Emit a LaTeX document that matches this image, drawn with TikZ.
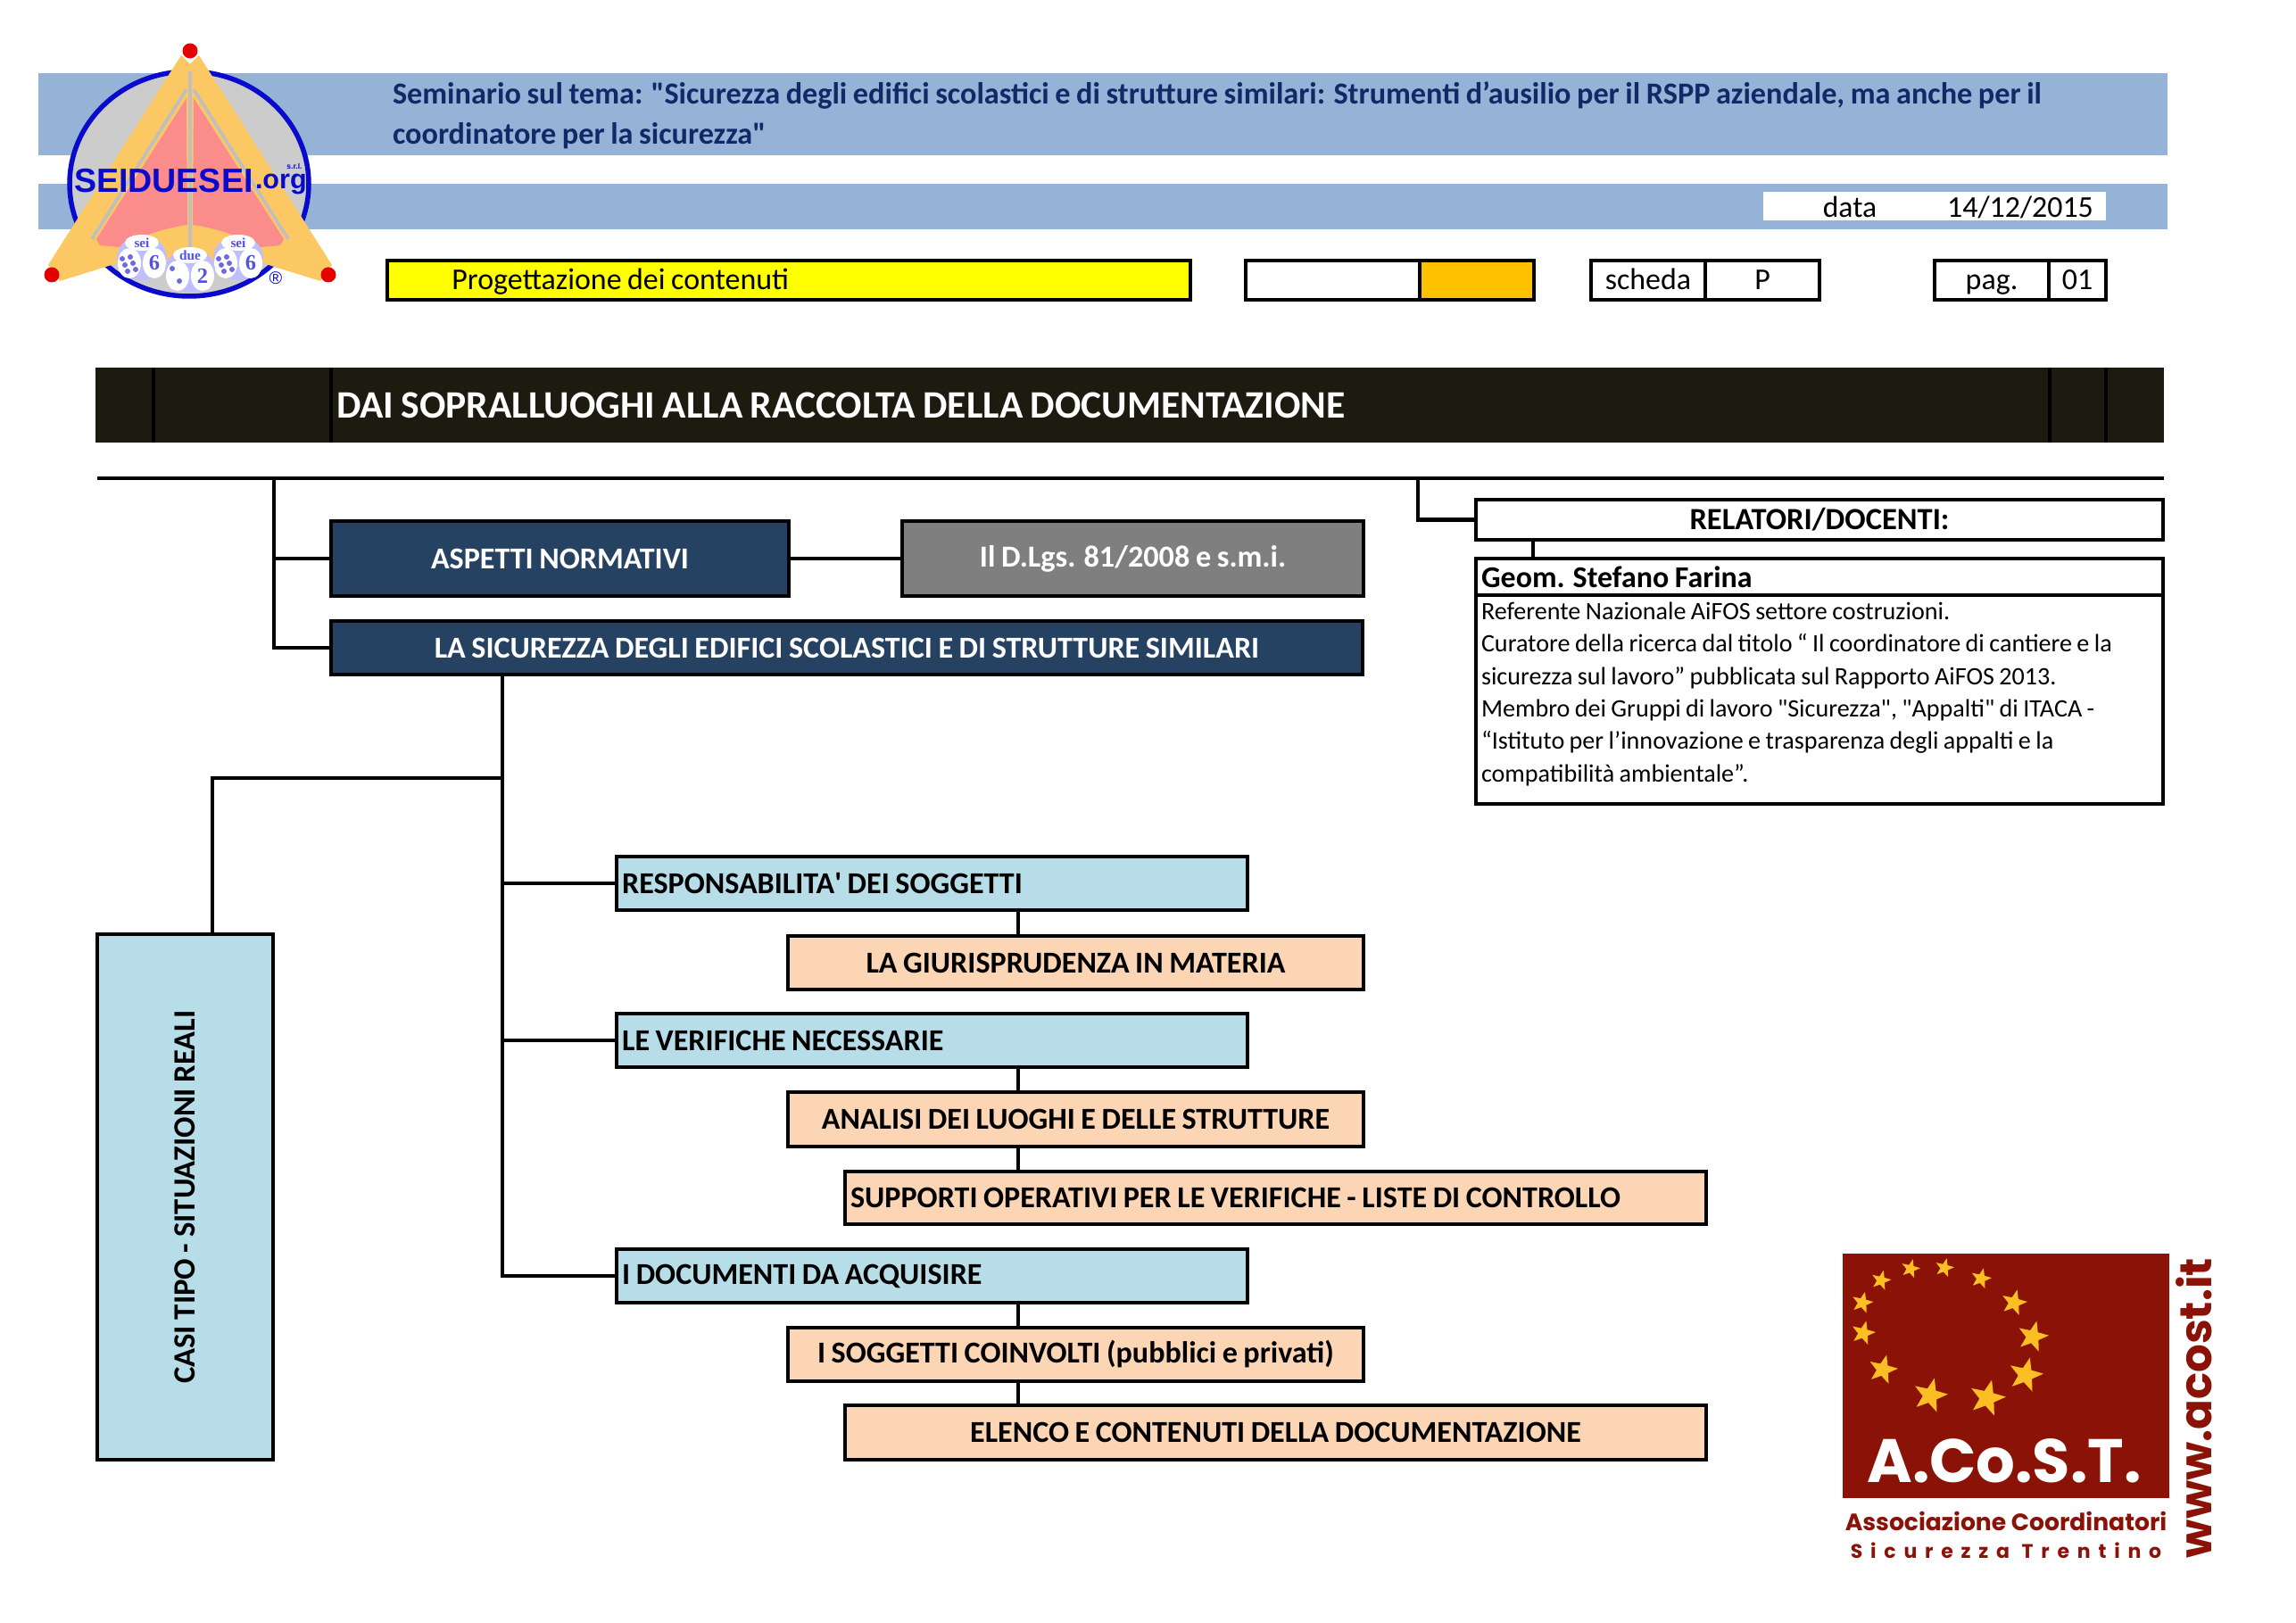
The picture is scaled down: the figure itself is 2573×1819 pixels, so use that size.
\documentclass[tikz,border=0pt]{standalone}
\usepackage{fontspec}
\setmainfont[WordSpace=0.85]{Carlito}
\newfontfamily\logofont{Liberation Sans}
\newfontfamily\acostfont{Poppins}
\newfontfamily\acostspaced[LetterSpace=40]{Poppins}
\newfontfamily\dadofont{Liberation Serif}
\usetikzlibrary{shapes.geometric,positioning}
\definecolor{banda}{HTML}{95B3D7}
\definecolor{testata}{HTML}{1D1B10}
\definecolor{navy}{HTML}{264263}
\definecolor{grigio}{HTML}{7F7F7F}
\definecolor{azzurro}{HTML}{B7DDE8}
\definecolor{pesca}{HTML}{FCD5B5}
\definecolor{inchiostro}{HTML}{0F2A66}
\definecolor{giallo}{HTML}{FFFF00}
\definecolor{arancio}{HTML}{FFC000}
\definecolor{rosso}{HTML}{8B1207}
\definecolor{oro}{HTML}{FBBF24}
\definecolor{alogo}{HTML}{FCC864}
\definecolor{rosa}{HTML}{FB8C8C}
\definecolor{blulogo}{HTML}{0A0ACC}
\newcommand\fs[1]{\fontsize{#1}{#1}\selectfont}
\tikzset{
x=0.3272pt,
y=-0.3272pt,
every node/.style={outer sep=0pt},
sized/.style 2 args={anchor=north west, minimum width=#1*0.3272pt, minimum height=#2*0.3272pt,
  text width=#1*0.3272pt-4pt, inner xsep=2pt, inner ysep=0pt},
cell/.style={draw, align=flush center, font=\fs{11.1}, text height=8.5pt, text depth=1.5pt},
navybox/.style={draw, fill=navy, text=white, align=flush center, font=\bfseries\fs{11.15}},
bluebox/.style={draw, fill=azzurro, align=flush left, font=\bfseries\fs{11.15}},
peachbox/.style={draw, fill=pesca, align=flush center, font=\bfseries\fs{11.15}},
stella/.style={star, star points=5, star point ratio=2.4, fill=oro, inner sep=0pt, rotate=-14},
dado/.style={text=blulogo!70, font=\dadofont\bfseries\fs{5}, inner sep=0pt},
}

\begin{document}
\begin{tikzpicture}[line width=1.4pt]
    \useasboundingbox (0,0) rectangle (2573,1819);

    \node[sized={2386}{92}, fill=banda] (banda1) at (43,82) {};
    \node[sized={2386}{51}, fill=banda] (banda2) at (43,206) {};
    \node[sized={384}{32}, fill=white] (bdata) at (1976,215) {};
    \node (ldata) at (2073,232) {\fs{11}data};
    \node (vdata) at (2264,232) {\fs{11.1}14/12/2015};
    \node[anchor=north west, align=left, inner sep=0pt, text=inchiostro, font=\bfseries\fontsize{11.2}{14.5}\selectfont] (semin) at (440,92)
        {Seminario sul tema: \textquotedbl Sicurezza degli edifici scolastici e di strutture similari: Strumenti d’ausilio per il RSPP aziendale, ma anche per il\\coordinatore per la sicurezza\textquotedbl};

    \node[sized={900}{44}, cell, fill=giallo, align=flush left] (prog) at (434,292) {\hspace*{21.7pt}Progettazione dei contenuti};
    \node[sized={195}{44}, cell] (vuoto) at (1396,292) {};
    \node[sized={128}{44}, cell, fill=arancio] (aran) at (1591,292) {};
    \node[sized={128}{44}, cell] (sch) at (1783,292) {scheda};
    \node[sized={128}{44}, cell] (schp) at (1911,292) {P};
    \node[sized={128}{44}, cell] (pag) at (2168,292) {pag.};
    \node[sized={64}{44}, cell] (pagn) at (2296,292) {01};

    \node[sized={2318}{84}, fill=testata] (titolo) at (107,412) {};
    \node[anchor=west, inner sep=0pt, text=white, font=\bfseries\fs{14.25}] (titxt) at (377,454) {DAI SOPRALLUOGHI ALLA RACCOLTA DELLA DOCUMENTAZIONE};
    \foreach \xs in {172,371,2297,2360}
        \draw (\xs,0 |- titolo.north) -- (\xs,0 |- titolo.south);

    \coordinate (tl) at (109,536);
    \coordinate (tr) at (2425,536);
    \coordinate (vn) at (307,536);
    \coordinate (vr) at (1589,536);
    \draw (tl) -- (tr);

    \node[sized={513}{84}, navybox] (asp) at (371,584) {ASPETTI NORMATIVI};
    \node[sized={517}{84}, draw, fill=grigio, text=white, align=flush center, font=\bfseries\fs{11.2}] (dlgs) at (1011,584) {Il D.Lgs. 81/2008 e s.m.i.};
    \node[sized={1156}{60}, navybox] (sicur) at (371,696) {LA SICUREZZA DEGLI EDIFICI SCOLASTICI E DI STRUTTURE SIMILARI};
    \draw (asp) -- (dlgs);
    \draw (vn) |- (asp.west);
    \draw (vn) |- (sicur.west);

    \node[sized={770}{45}, draw, align=flush center, font=\bfseries\fs{11.3}] (relat) at (1654,560) {RELATORI/DOCENTI:};
    \node[sized={770}{41}, draw, align=flush left, font=\bfseries\fs{11.1}] (geom) at (1654,626) {Geom. Stefano Farina};
    \node[sized={770}{234}, draw] (descr) at (1654,667) {};
    \node[anchor=north west, inner sep=0pt, align=left, font=\fs{9.2}] (dtxt) at (1660,675)
        {Referente Nazionale AiFOS settore costruzioni.\\[2.7pt]
         Curatore della ricerca dal titolo “ Il coordinatore di cantiere e la\\[2.7pt]
         sicurezza sul lavoro” pubblicata sul Rapporto AiFOS 2013.\\[2.7pt]
         Membro dei Gruppi di lavoro \textquotedbl Sicurezza\textquotedbl, \textquotedbl Appalti\textquotedbl{} di ITACA -\\[2.7pt]
         “Istituto per l’innovazione e trasparenza degli appalti e la\\[2.7pt]
         compatibilità ambientale”.};
    \coordinate (vg) at (1718,605);
    \draw (vr) |- (relat.west);
    \draw (relat.south -| vg) -- (geom.north -| vg);

    \node[sized={707}{60}, bluebox] (resp) at (691,960) {RESPONSABILITA\textquotesingle{} DEI SOGGETTI};
    \node[sized={645}{60}, peachbox] (giur) at (883,1049) {LA GIURISPRUDENZA IN MATERIA};
    \node[sized={707}{60}, bluebox] (verif) at (691,1136) {LE VERIFICHE NECESSARIE};
    \node[sized={645}{61}, peachbox] (anal) at (883,1224) {ANALISI DEI LUOGHI E DELLE STRUTTURE};
    \node[sized={965}{59}, bluebox, fill=pesca] (supp) at (947,1313) {SUPPORTI OPERATIVI PER LE VERIFICHE - LISTE DI CONTROLLO};
    \node[sized={707}{60}, bluebox] (docum) at (691,1400) {I DOCUMENTI DA ACQUISIRE};
    \node[sized={645}{60}, peachbox] (sogg) at (883,1488) {I SOGGETTI COINVOLTI (pubblici e privati)};
    \node[sized={965}{61}, peachbox] (elen) at (947,1575) {ELENCO E CONTENUTI DELLA DOCUMENTAZIONE};
    \node[draw, fill=azzurro, rotate=90, minimum width=589*0.3272pt, minimum height=197*0.3272pt, font=\bfseries\fs{11.35}] (casi) at (207.5,1341.5) {CASI TIPO - SITUAZIONI REALI};

    \coordinate (tr1) at (563,872);
    \coordinate (c1) at (238,872);
    \coordinate (vb) at (1141,0);
    \draw (sicur.south -| tr1) -- (docum.west -| tr1) -- (docum.west);
    \draw (resp.west -| tr1) -- (resp.west);
    \draw (verif.west -| tr1) -- (verif.west);
    \draw (tr1) -- (c1) -- (c1 |- casi.east);
    \draw (resp.south -| vb) -- (giur.north -| vb);
    \draw (verif.south -| vb) -- (anal.north -| vb);
    \draw (anal.south -| vb) -- (supp.north -| vb);
    \draw (docum.south -| vb) -- (sogg.north -| vb);
    \draw (sogg.south -| vb) -- (elen.north -| vb);

    % logo a sinistra
    \draw[draw=blulogo, line width=1.8pt, fill=gray!40] (212,206) ellipse (134 and 126);
    \fill[alogo] (203,62) -- (213,72) -- (223,62) -- (372,297) -- (359,315) -- (285,292) -- (141,292) -- (67,315) -- (54,297) -- cycle;
    \fill[rosa] (209,110) -- (108,268) -- (112,275) -- (134,277) .. controls (150,270) and (170,258) .. (210,252) -- cycle;
    \fill[rosa] (217,110) -- (318,268) -- (314,275) -- (292,277) .. controls (276,270) and (256,258) .. (216,252) -- cycle;
    \draw[gray!50, line width=1.2pt] (209,100) -- (103,268);
    \draw[gray!50, line width=1.2pt] (217,100) -- (323,268);
    \draw[gray!50, line width=1.5pt] (213,80) -- (213,277);
    \foreach \dx/\dy/\dt/\dn/\di in {159/272/sei/6/a,267/272/sei/6/b,213/286/due/2/c} {
        \fill[blue!25!white] (\dx,\dy+17) ellipse (28 and 25);
        \fill[white] (\dx,\dy) ellipse (19 and 9);
        \fill[white] (\dx-14,\dy+23) ellipse (13 and 17);
        \fill[white] (\dx+14,\dy+23) ellipse (13 and 17);
        \node[dado] (dt\di) at (\dx,\dy) {\dt};
        \node[dado, font=\dadofont\bfseries\fs{8}] (dn\di) at (\dx+14,\dy+23) {\dn};
    }
    \foreach \px/\py in {137/290,146/288,140/297,149/295,143/304,152/302,245/290,254/288,248/297,257/295,251/304,260/302,193/301,201/315}
        \fill[blulogo!60] (\px,\py) circle (3);
    \foreach \rx/\ry in {213/57,58/308,368/308}
        \fill[red!90!black] (\rx,\ry) circle (8.5);
    \node[anchor=west, inner sep=0pt, text=blulogo, font=\logofont\bfseries\fs{12.3}] (sds) at (83,203) {SEIDUESEI};
    \node[anchor=west, inner sep=0pt, text=blulogo, font=\logofont\bfseries\fs{10}] (org) at (286,207) {.org};
    \node[inner sep=0pt, text=blulogo, font=\logofont\bfseries\fs{2.8}] (srl) at (330,186) {s.r.l.};
    \node[inner sep=0pt, text=blulogo, font=\logofont\fs{6.5}] (reg) at (309,312) {®};

    % logo a destra
    \node[sized={366}{274}, fill=rosso] (acost) at (2065,1405) {};
    \foreach \sx/\sy/\sr [count=\si] in {2141/1422/22,2179/1421/22,2220/1433/24,2257/1460/30,2278/1498/36,2270/1541/40,2227/1567/42,2163/1564/40,2110/1535/34,2088/1494/28,2087/1460/25,2108/1435/23}
        \node[stella, minimum size=\sr*0.3272pt] (s\si) at (\sx,\sy) {};
    \node[inner sep=0pt, text=white, font=\acostfont\bfseries\fs{22.5}] (asigla) at (2246,1637) {A.Co.S.T.};
    \node[inner sep=0pt, text=rosso, font=\acostfont\bfseries\fs{8.7}] (assoc) at (2248,1705) {Associazione Coordinatori};
    \node[inner sep=0pt, text=rosso, font=\acostspaced\bfseries\fs{7.2}] (sicu) at (2248,1738) {Sicurezza Trentino};
    \node[inner sep=0pt, rotate=90, text=rosso, font=\acostfont\bfseries\fs{16.3}] (www) at (2459,1578) {www.acost.it};
\end{tikzpicture}
\end{document}
